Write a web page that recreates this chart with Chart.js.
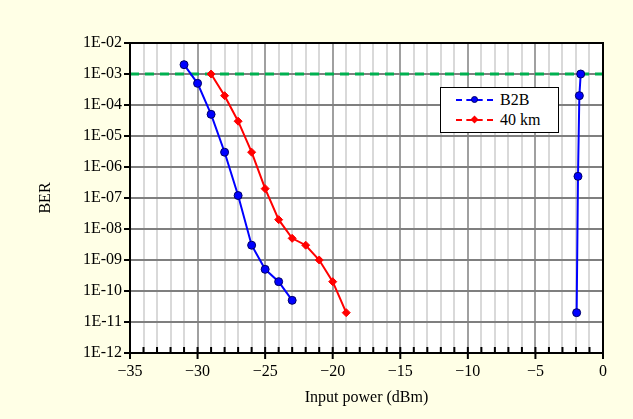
<!DOCTYPE html>
<html>
<head>
<meta charset="utf-8">
<script src="https://cdn.jsdelivr.net/npm/chart.js@4.4.0/dist/chart.umd.min.js"></script>
<style>
  html, body { margin: 0; padding: 0; background: #FFFFE6; }
  #wrap { position: relative; width: 633px; height: 419px; }
  #legend {
    position: absolute; left: 440px; top: 87px; width: 117px; height: 44px;
    border: 1px solid #000; background: #fff;
    font-family: 'Liberation Serif', 'Times New Roman', serif; font-size: 16px; color: #000;
  }
  .item { position: absolute; left: 0; width: 117px; height: 20px; }
  .line { position: absolute; left: 15px; width: 37px; top: 9px; border-top: 2px dashed; }
  .dot { position: absolute; left: 30px; top: 6px; width: 7px; height: 7px; }
  .lbl { position: absolute; left: 59px; top: 0; line-height: 20px; }
</style>
</head>
<body>
<div id="wrap">
  <canvas id="berChart" width="633" height="419"></canvas>
  <div id="legend">
    <div class="item" style="top:2px">
      <span class="line" style="border-color:#0000FF"></span>
      <span class="dot" style="background:#0000FF;border-radius:50%;box-sizing:border-box;border:1px solid #000066"></span>
      <span class="lbl">B2B</span>
    </div>
    <div class="item" style="top:22px">
      <span class="line" style="border-color:#FF0000"></span>
      <span class="dot" style="background:#FF0000;transform:rotate(45deg) scale(0.8)"></span>
      <span class="lbl">40 km</span>
    </div>
  </div>
</div>
<script>
// measured data
const b2bPower = [-31, -30, -29, -28, -27, -26, -25, -24, -23];
const b2bBer = [2e-3, 5e-4, 5e-5, 3e-6, 1.2e-7, 3e-9, 5e-10, 2e-10, 5e-11];
const b2bHighPower = [-1.65, -1.75, -1.85, -1.95];
const b2bHighBer = [1e-3, 2e-4, 5e-7, 2e-11];
const km40Power = [-29, -28, -27, -26, -25, -24, -23, -22, -21, -20, -19];
const km40Ber = [1e-3, 2e-4, 3e-5, 3e-6, 2e-7, 2e-8, 5e-9, 3e-9, 1e-9, 2e-10, 2e-11];
const fecLimitPower = [-35, 0];
const fecLimitBer = [1e-3, 1e-3];

// axes
const xTickValues = [-35, -34, -33, -32, -31, -30, -29, -28, -27, -26, -25, -24, -23, -22, -21, -20, -19, -18, -17, -16, -15, -14, -13, -12, -11, -10, -9, -8, -7, -6, -5, -4, -3, -2, -1, 0];
const xMajorValues = [-35, -30, -25, -20, -15, -10, -5, 0];
const xMajorLabels = ['\u221235', '\u221230', '\u221225', '\u221220', '\u221215', '\u221210', '\u22125', '0'];
const yTickValues = [1e-12, 1e-11, 1e-10, 1e-9, 1e-8, 1e-7, 1e-6, 1e-5, 1e-4, 1e-3, 1e-2];
const yTickLabels = ['1E-12', '1E-11', '1E-10', '1E-09', '1E-08', '1E-07', '1E-06', '1E-05', '1E-04', '1E-03', '1E-02'];

const serif = "'Liberation Serif', 'Times New Roman', serif";

function pts(xs, ys) {
    return xs.map((x, i) => ({ x: x, y: ys[i] }));
}

// white plot area, black frame and tick marks
const frame = {
    id: 'frame',
    beforeDraw(chart) {
        const { ctx, chartArea: a } = chart;
        ctx.save();
        ctx.fillStyle = '#fff';
        ctx.fillRect(a.left, a.top, a.width, a.height);
        ctx.restore();
    },
    afterDraw(chart) {
        const { ctx, chartArea: a, scales } = chart;
        ctx.save();
        ctx.strokeStyle = '#000';
        ctx.lineWidth = 2;
        ctx.strokeRect(a.left, a.top, a.width, a.height);
        ctx.beginPath();
        xTickValues.forEach(v => {
            const px = scales.x.getPixelForValue(v);
            const major = xMajorValues.includes(v);
            ctx.moveTo(px, major ? a.bottom + 6 : a.bottom);
            ctx.lineTo(px, a.bottom - 6);
        });
        yTickValues.forEach(v => {
            const py = scales.y.getPixelForValue(v);
            ctx.moveTo(a.left - 6, py);
            ctx.lineTo(a.left, py);
        });
        ctx.stroke();
        ctx.restore();
    }
};

const ctx = document.getElementById('berChart').getContext('2d');
const berChart = new Chart(ctx, {
    type: 'scatter',
    data: {
        datasets: [
            {
                label: 'B2B',
                data: pts(b2bPower, b2bBer),
                showLine: true,
                borderColor: '#0000FF',
                backgroundColor: '#0000FF',
                pointBorderColor: '#000066',
                pointBorderWidth: 1,
                pointRadius: 4,
                borderWidth: 2
            },
            {
                label: 'B2B',
                data: pts(b2bHighPower, b2bHighBer),
                showLine: true,
                borderColor: '#0000FF',
                backgroundColor: '#0000FF',
                pointBorderColor: '#000066',
                pointBorderWidth: 1,
                pointRadius: 4,
                borderWidth: 2
            },
            {
                label: '40 km',
                data: pts(km40Power, km40Ber),
                showLine: true,
                borderColor: '#FF0000',
                backgroundColor: '#FF0000',
                pointStyle: 'rectRot',
                pointRadius: 4,
                pointBorderWidth: 1,
                borderWidth: 2
            },
            {
                label: 'FEC limit',
                data: pts(fecLimitPower, fecLimitBer),
                showLine: true,
                borderColor: '#00B050',
                borderWidth: 3,
                borderDash: [9, 6],
                pointRadius: 0
            }
        ]
    },
    options: {
        responsive: false,
        animation: false,
        layout: { padding: { top: 43, right: 30, left: 0, bottom: 0 } },
        plugins: {
            legend: { display: false },
            tooltip: { enabled: false }
        },
        scales: {
            x: {
                type: 'linear',
                min: -35,
                max: 0,
                afterBuildTicks: s => { s.ticks = xTickValues.map(v => ({ value: v })); },
                afterFit: s => { s.height = 66; },
                grid: {
                    color: c => (c.tick && c.tick.value % 5 === 0) ? '#a0a0a0' : '#d9d9d9',
                    lineWidth: 2,
                    drawTicks: false
                },
                border: { color: '#000', width: 2 },
                ticks: {
                    autoSkip: false,
                    maxRotation: 0,
                    padding: 9,
                    color: '#000',
                    font: { family: serif, size: 16 },
                    callback: v => {
                        const i = xMajorValues.indexOf(v);
                        return i >= 0 ? xMajorLabels[i] : '';
                    }
                },
                title: {
                    display: true,
                    text: 'Input power (dBm)',
                    color: '#000',
                    font: { family: serif, size: 16 },
                    padding: { top: 0, bottom: 12 }
                }
            },
            y: {
                type: 'logarithmic',
                min: 1e-12,
                max: 1e-2,
                afterBuildTicks: s => { s.ticks = yTickValues.map(v => ({ value: v })); },
                afterFit: s => { s.width = 130; },
                grid: {
                    color: '#7f7f7f',
                    lineWidth: 2,
                    drawTicks: false
                },
                border: { color: '#000', width: 2 },
                ticks: {
                    padding: 8,
                    color: '#000',
                    font: { family: serif, size: 16 },
                    callback: (v, i) => yTickLabels[i]
                },
                title: {
                    display: true,
                    text: 'BER',
                    color: '#000',
                    font: { family: serif, size: 16 },
                    padding: { top: 36, bottom: 0 }
                }
            }
        }
    },
    plugins: [frame]
});
</script>
</body>
</html>
